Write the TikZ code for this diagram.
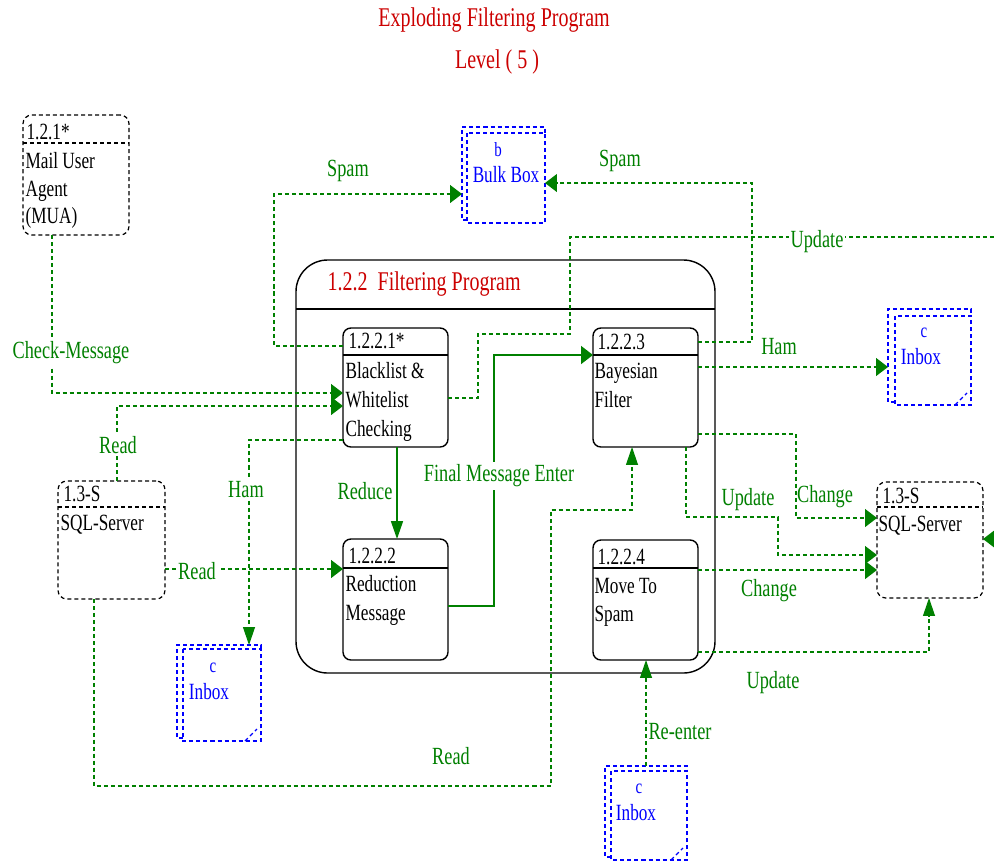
\documentclass[tikz,border=0pt]{standalone}
\usepackage{fontspec}
\setmainfont{Liberation Serif}
\usetikzlibrary{arrows.meta}

\definecolor{flowgreen}{RGB}{0,128,0}
\definecolor{headred}{RGB}{204,0,0}
\definecolor{storeblue}{RGB}{0,0,255}

\tikzset{
  boxsize/.style 2 args={minimum width={#1*0.02cm}, minimum height={#2*0.02cm}},
  proc/.style={draw, line width=0.8pt, rounded corners=4.5pt, inner sep=0pt, outer sep=0pt},
  ext/.style={draw, dash pattern=on 2.3pt off 1.7pt, rounded corners=5pt, inner sep=0pt, outer sep=0pt},
  progframe/.style={draw, line width=0.8pt, rounded corners=18pt, inner sep=0pt, outer sep=0pt},
  store/.style={inner sep=0pt, outer sep=0pt},
  storeline/.style={storeblue, dash pattern=on 2.3pt off 1.7pt},
  extline/.style={dash pattern=on 2.3pt off 1.7pt},
  flow/.style={flowgreen, dash pattern=on 2.3pt off 1.7pt},
  solidflow/.style={flowgreen, line width=1pt},
  toh/.style={-{Triangle[length=6.8pt, width=10.2pt]}},
  tov/.style={-{Triangle[length=10.2pt, width=6.8pt]}},
  boxtext/.style={inner sep=0pt, anchor=north west, align=left, yscale=1.35, font=\fontsize{9.8}{12.2}\selectfont},
  storetext/.style={inner sep=0pt, text=storeblue, yscale=1.35, font=\fontsize{9.8}{12}\selectfont},
  flowlabel/.style={inner sep=1pt, text=flowgreen, yscale=1.35, font=\fontsize{10.4}{12}\selectfont},
  cutline/.style={fill=white},
  heading/.style={inner sep=0pt, text=headred, yscale=1.35, font=\fontsize{11.4}{13}\selectfont}
}

\begin{document}
\begin{tikzpicture}[x=0.02cm, y=-0.02cm, line width=0.7pt]
  \path[use as bounding box, fill=white] (0,0) rectangle (994,863);
  \clip (0,0) rectangle (994,863);

  % Title
  \node[heading] (title) at (494,20) {Exploding Filtering Program};
  \node[heading] (level) at (497,62) {Level ( 5 )};

  % Filtering program frame
  \node[progframe, boxsize={419}{413}] (fp) at (505.5,466.5) {};
  \draw[line width=0.8pt] (fp.west |- 0,309) -- (fp.east |- 0,309);
  \node[heading, anchor=west] (fp-title) at (327,284) {1.2.2\ \ Filtering Program};

  % Processes
  \node[proc, boxsize={105}{119}] (bwc) at (395.5,387.5) {};
  \node[proc, boxsize={105}{121}] (redm) at (395.5,599.5) {};
  \node[proc, boxsize={105}{119}] (bay) at (645.5,387.5) {};
  \node[proc, boxsize={105}{120}] (mts) at (645.5,600) {};
  \draw[line width=0.8pt] (bwc.west |- 0,355) -- (bwc.east |- 0,355);
  \draw[line width=0.8pt] (redm.west |- 0,568) -- (redm.east |- 0,568);
  \draw[line width=0.8pt] (bay.west |- 0,355) -- (bay.east |- 0,355);
  \draw[line width=0.8pt] (mts.west |- 0,568) -- (mts.east |- 0,568);
  \node[boxtext] (bwc-id) at (348,332) {1.2.2.1*};
  \node[boxtext] (bwc-name) at (345,362) {Blacklist \&\\Whitelist\\Checking};
  \node[boxtext] (redm-id) at (348,547) {1.2.2.2};
  \node[boxtext] (redm-name) at (345,575) {Reduction\\Message};
  \node[boxtext] (bay-id) at (597,333) {1.2.2.3};
  \node[boxtext] (bay-name) at (594,362) {Bayesian\\Filter};
  \node[boxtext] (mts-id) at (597,548) {1.2.2.4};
  \node[boxtext] (mts-name) at (594,577) {Move To\\Spam};

  % External entities
  \node[ext, boxsize={106}{120}] (mua) at (76,175) {};
  \node[ext, boxsize={107}{118}] (sqll) at (111.5,540) {};
  \node[ext, boxsize={106}{116}] (sqlr) at (930,540) {};
  \draw[extline] (mua.west |- 0,143) -- (mua.east |- 0,143);
  \draw[extline] (sqll.west |- 0,507) -- (sqll.east |- 0,507);
  \draw[extline] (sqlr.west |- 0,507) -- (sqlr.east |- 0,507);
  \node[boxtext] (mua-id) at (26,123) {1.2.1*};
  \node[boxtext, font=\fontsize{9.8}{11.6}\selectfont] (mua-name) at (25,152) {Mail User\\Agent\\(MUA)};
  \node[boxtext] (sqll-id) at (63,485) {1.3-S};
  \node[boxtext] (sqll-name) at (60,514) {SQL-Server};
  \node[boxtext] (sqlr-id) at (882,487) {1.3-S};
  \node[boxtext] (sqlr-name) at (878,515) {SQL-Server};

  % Data stores
  \node[store, boxsize={83}{96}] (bulk) at (503.5,175) {};
  \draw[storeline] ([shift={(5,6)}]bulk.north west) rectangle (bulk.south east);
  \draw[storeline] ([shift={(5,-3)}]bulk.south west) -- ++(-5,0) |- (bulk.north east) -- ++(0,6);
  \node[storetext, font=\fontsize{8.5}{10}\selectfont] (bulk-id) at (498,150) {b};
  \node[storetext] (bulk-name) at (506,175) {Bulk Box};

  \node[store, boxsize={83}{96}] (inboxr) at (929.5,357) {};
  \draw[storeline] ([shift={(7,7)}]inboxr.north west) rectangle (inboxr.south east);
  \draw[storeline] ([shift={(7,-3)}]inboxr.south west) -- ++(-7,0) |- (inboxr.north east) -- ++(0,7);
  \draw[storeline] ([shift={(-16,0)}]inboxr.south east) -- ++(12,-12);
  \node[storetext, font=\fontsize{8.5}{10}\selectfont] (inboxr-id) at (924,333) {c};
  \node[storetext] (inboxr-name) at (921,357) {Inbox};

  \node[store, boxsize={84}{96}] (inboxl) at (219,693) {};
  \draw[storeline] ([shift={(6,4)}]inboxl.north west) rectangle (inboxl.south east);
  \draw[storeline] ([shift={(6,-3)}]inboxl.south west) -- ++(-6,0) |- (inboxl.north east) -- ++(0,4);
  \draw[storeline] ([shift={(-16,0)}]inboxl.south east) -- ++(12,-12);
  \node[storetext, font=\fontsize{8.5}{10}\selectfont] (inboxl-id) at (213,668) {c};
  \node[storetext] (inboxl-name) at (209,692) {Inbox};

  \node[store, boxsize={82}{94}] (inboxb) at (646,813) {};
  \draw[storeline] ([shift={(6,5)}]inboxb.north west) rectangle (inboxb.south east);
  \draw[storeline] ([shift={(6,-3)}]inboxb.south west) -- ++(-6,0) |- (inboxb.north east) -- ++(0,5);
  \draw[storeline] ([shift={(-16,0)}]inboxb.south east) -- ++(12,-12);
  \node[storetext, font=\fontsize{8.5}{10}\selectfont] (inboxb-id) at (639,789) {c};
  \node[storetext] (inboxb-name) at (636,813) {Inbox};

  % Data flows
  \draw[flow, toh] (mua.south -| 52,0) |- (bwc.west |- 0,393);
  \draw[flow, toh] (sqll.north -| 117,0) |- (bwc.west |- 0,406);
  \draw[flow, tov] (bwc.west |- 0,440) -| (inboxl.north -| 249,0);
  \draw[flow, toh] (bwc.west |- 0,346) -- (274,346) |- (bulk.west |- 0,194);
  \draw[flow, toh] (bay.east |- 0,342) -- (752,342) |- (bulk.east |- 0,183);
  \draw[flow, toh] (bwc.east |- 0,398) -- (478,398) |- (570,334) |- (1010,237) |- (sqlr.east |- 0,539);
  \draw[solidflow, tov] (bwc.south -| 397,0) -- (redm.north -| 397,0);
  \draw[solidflow, toh] (redm.east |- 0,606) -| (494,355) -- (bay.west |- 0,355);
  \draw[flow, toh] (sqll.east |- 0,569) -- (redm.west |- 0,569);
  \draw[flow, tov] (sqll.south -| 94,0) |- (551,786) |- (632,510) -- (bay.south -| 632,0);
  \draw[flow, toh] (bay.east |- 0,367) -- (inboxr.west |- 0,367);
  \draw[flow, toh] (bay.east |- 0,434) -| (796,518) -- (sqlr.west |- 0,518);
  \draw[flow, toh] (bay.south -| 686,0) |- (778,517) |- (sqlr.west |- 0,555);
  \draw[flow, toh] (mts.east |- 0,570) -- (sqlr.west |- 0,570);
  \draw[flow, tov] (mts.east |- 0,652) -| (sqlr.south -| 929,0);
  \draw[flow, tov] (inboxb.north -| 646,0) -- (mts.south -| 646,0);

  % Flow labels
  \node[flowlabel] (l-spam1) at (348,171) {Spam};
  \node[flowlabel] (l-spam2) at (620,161) {Spam};
  \node[flowlabel, cutline] (l-upd1) at (817,242) {Update};
  \node[flowlabel, cutline] (l-check) at (71,353) {Check-Message};
  \node[flowlabel, cutline] (l-read1) at (118,445) {Read};
  \node[flowlabel, cutline] (l-ham1) at (246,490) {Ham};
  \node[flowlabel, cutline] (l-read2) at (197,571) {Read};
  \node[flowlabel] (l-reduce) at (365,491) {Reduce};
  \node[flowlabel, cutline] (l-final) at (499,476) {Final Message Enter};
  \node[flowlabel] (l-ham2) at (779,347) {Ham};
  \node[flowlabel] (l-upd2) at (748,500) {Update};
  \node[flowlabel] (l-chg1) at (825,497) {Change};
  \node[flowlabel] (l-chg2) at (769,591) {Change};
  \node[flowlabel] (l-upd3) at (773,683) {Update};
  \node[flowlabel] (l-read3) at (451,756) {Read};
  \node[flowlabel] (l-reenter) at (680,732) {Re-enter};
\end{tikzpicture}
\end{document}
